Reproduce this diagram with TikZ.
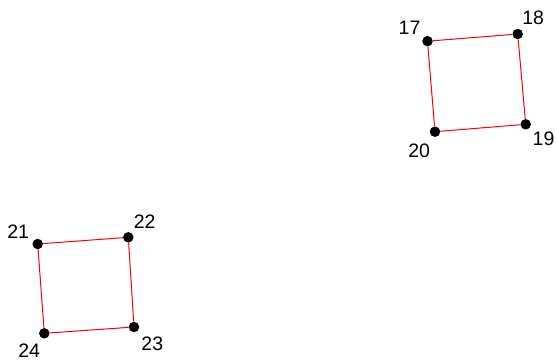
\documentclass[tikz,border=0pt]{standalone}
\usepackage{fontspec}
\setmainfont{Liberation Sans}
\usetikzlibrary{positioning}

\begin{document}
\begin{tikzpicture}[x=1pt, y=-1pt,
    pt/.style={%
      circle, fill=black, inner sep=0pt, minimum size=10.5pt
    },
    lbl/.style={%
      inner sep=0pt, font=\fontsize{19.5}{22}\selectfont
    },
    side/.style={%
      draw=red, line width=1pt
    }
]
    \useasboundingbox (0,0) rectangle (557,360);

    % upper square
    \node[pt] (p17) at (427.5,41.2)  {};
    \node[pt] (p18) at (517.7,34)    {};
    \node[pt] (p19) at (525.7,124.3) {};
    \node[pt] (p20) at (435,131.7)   {};
    \node[lbl] (l17) at (409.5,28)   {17};
    \node[lbl] (l18) at (533.2,17.3) {18};
    \node[lbl] (l19) at (543.5,139)  {19};
    \node[lbl] (l20) at (419.2,151)  {20};

    % lower square
    \node[pt] (p21) at (37.7,244)    {};
    \node[pt] (p22) at (128.3,237.3) {};
    \node[pt] (p23) at (134,327)     {};
    \node[pt] (p24) at (44.3,333.3)  {};
    \node[lbl] (l21) at (18.2,231.7) {21};
    \node[lbl] (l22) at (144.7,221.5) {22};
    \node[lbl] (l23) at (152.3,343.7) {23};
    \node[lbl] (l24) at (29.2,350.5) {24};

    \draw[side] (p17) -- (p18) -- (p19) -- (p20) -- (p17);
    \draw[side] (p21) -- (p22) -- (p23) -- (p24) -- (p21);

\end{tikzpicture}
\end{document}
